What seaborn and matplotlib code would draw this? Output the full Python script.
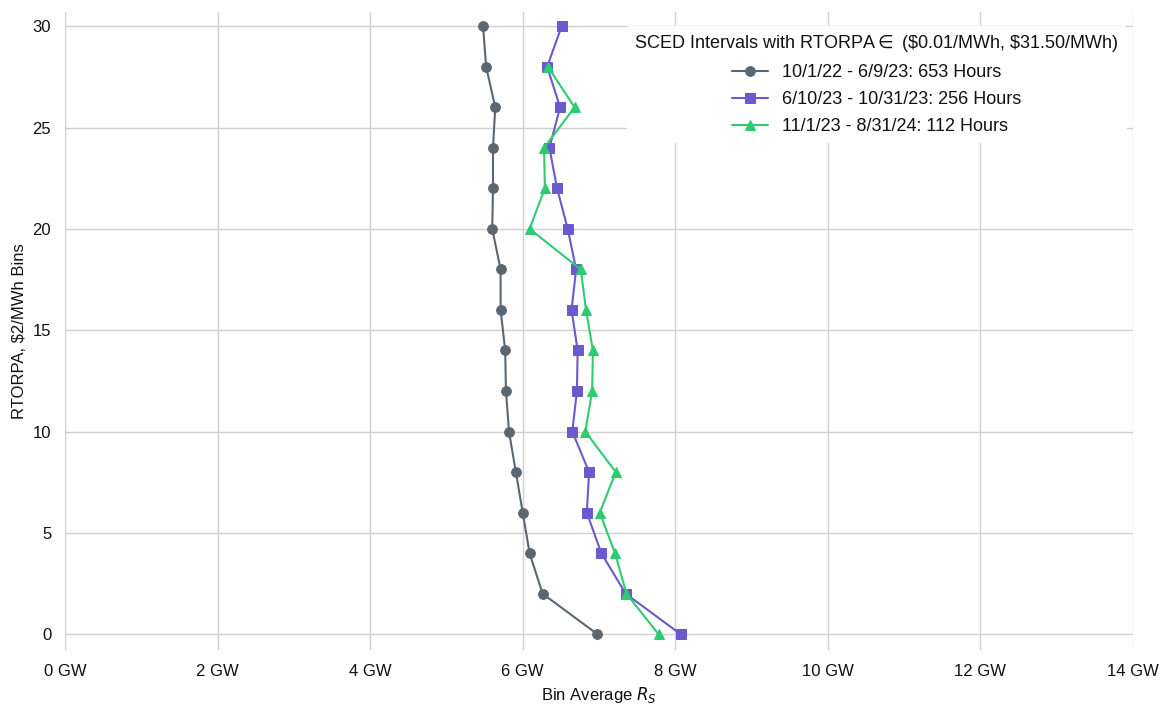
import numpy as np
import pandas as pd
import seaborn as sns
import matplotlib.pyplot as plt

# RTORPA bins ($2/MWh)
bins_a = [0, 2, 4, 6, 8, 10, 12, 14, 16, 18, 20, 22, 24, 26, 28, 30]
bins_b = [0, 2, 4, 6, 8, 10, 12, 14, 16, 18, 20, 22, 24, 26, 28, 30]
bins_c = [0, 2, 4, 6, 8, 10, 12, 14, 16, 18, 20, 22, 24, 26, 28]

# bin average R_S (GW)
rs_a = [6.98, 6.26, 6.09, 6.00, 5.91, 5.82, 5.78, 5.77, 5.71, 5.71, 5.60, 5.61, 5.61, 5.64, 5.52, 5.48]
rs_b = [8.07, 7.35, 7.03, 6.84, 6.87, 6.65, 6.71, 6.72, 6.64, 6.70, 6.59, 6.45, 6.35, 6.49, 6.32, 6.51]
rs_c = [7.78, 7.36, 7.21, 7.01, 7.22, 6.82, 6.91, 6.92, 6.83, 6.76, 6.09, 6.29, 6.28, 6.68, 6.33]

labels = ["10/1/22 - 6/9/23: 653 Hours",
          "6/10/23 - 10/31/23: 256 Hours",
          "11/1/23 - 8/31/24: 112 Hours"]
colors = ["#5b6770", "#6a5acd", "#2ecc71"]
markers = ["o", "s", "^"]

x_ticks = [0, 2, 4, 6, 8, 10, 12, 14]

sns.set_theme(style="whitegrid")
plt.rcParams['font.family'] = ['Liberation Sans', 'DejaVu Sans']

fig, ax = plt.subplots(figsize=(11.62, 7.07), dpi=100)

series = [(rs_a, bins_a), (rs_b, bins_b), (rs_c, bins_c)]
for (xs, ys), lab, col, mk in zip(series, labels, colors, markers):
    df = pd.DataFrame({"rs": xs, "bin": ys})
    sns.lineplot(data=df, x="rs", y="bin", orient="y", estimator=None,
                 color=col, marker=mk, markersize=7, markeredgecolor=col,
                 linewidth=1.5, label=lab, ax=ax)

ax.set_xlim(0, 14)
ax.set_ylim(-0.8, 30.7)
ax.set_xticks(x_ticks)
ax.set_xticklabels([f"{t} GW" for t in x_ticks])
ax.set_yticks([0, 5, 10, 15, 20, 25, 30])
ax.tick_params(labelsize=12, colors="#111111", pad=4)
for s in ax.spines.values():
    s.set_visible(False)
ax.grid(color="#d0d0d0", linewidth=1)

ax.set_xlabel("Bin Average $R_S$", fontsize=12, color="#111111")
ax.set_ylabel(r"RTORPA, \$2/MWh Bins", fontsize=12, color="#111111")

leg = ax.legend(title=r"SCED Intervals with RTORPA$\in$ (\$0.01/MWh, \$31.50/MWh)",
                loc="upper right", bbox_to_anchor=(1.002, 0.992),
                fontsize=13, title_fontsize=13, labelspacing=0.55,
                frameon=True, facecolor="white", edgecolor="white", framealpha=1,
                borderaxespad=0.5)
for t in leg.get_texts():
    t.set_color("#111111")
leg.get_title().set_color("#111111")

fig.subplots_adjust(left=0.056, right=0.975, top=0.983, bottom=0.08)
fig.savefig("out.png", dpi=100)
